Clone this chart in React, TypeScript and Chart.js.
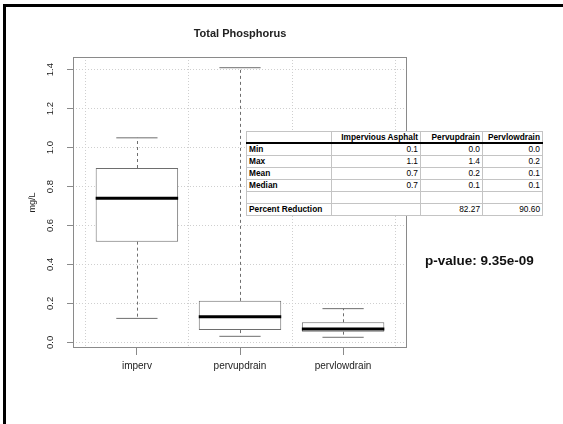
import { useEffect, useRef } from "react";
import { Chart, registerables } from "chart.js";

Chart.register(...registerables);

// Box-and-whisker summaries, one entry per site
const categories = ["imperv", "pervupdrain", "pervlowdrain"];
const whiskerLow = [0.123, 0.031, 0.026];
const quartile1 = [0.517, 0.063, 0.055];
const medians = [0.74, 0.132, 0.068];
const quartile3 = [0.895, 0.213, 0.103];
const whiskerHigh = [1.05, 1.41, 0.173];

// Axis limits (data range padded 4% on each side)
const yLimits = [-0.029, 1.465];
const xLimits = [0.38, 3.62];
const yStep = 0.2;
const xGridValues = [0.5, 1.5, 2.5, 3.5];

// Summary table
const tableHeader = ["", "Impervious Asphalt", "Pervupdrain", "Pervlowdrain"];
const rowLabels = ["Min", "Max", "Mean", "Median", "", "Percent Reduction"];
const imperviousCol = ["0.1", "1.1", "0.7", "0.7", "", ""];
const pervupdrainCol = ["0.0", "1.4", "0.2", "0.1", "", "82.27"];
const pervlowdrainCol = ["0.0", "0.2", "0.1", "0.1", "", "90.60"];
const pValueText = "p-value: 9.35e-09";

const FONT = "'Liberation Sans', Arial, Helvetica, sans-serif";
const FRAME = "#8a8a8a";
const GRID = "#cfcfcf";
const LINE = "#6e6e6e";

const boxParts = {
  id: "boxParts",
  beforeDatasetsDraw(chart: any) {
    const { ctx, chartArea: a, scales } = chart;
    const x = scales.x;
    ctx.save();
    ctx.strokeStyle = GRID;
    ctx.lineWidth = 1;
    ctx.setLineDash([1, 2]);
    xGridValues.forEach((v) => {
      const px = Math.round(x.getPixelForValue(v)) + 0.5;
      ctx.beginPath();
      ctx.moveTo(px, a.top);
      ctx.lineTo(px, a.bottom);
      ctx.stroke();
    });
    ctx.restore();
  },
  afterDatasetsDraw(chart: any) {
    const { ctx, chartArea: a, scales } = chart;
    const y = scales.y;
    const meta = chart.getDatasetMeta(0);
    const seg = (x1: number, y1: number, x2: number, y2: number) => {
      ctx.beginPath();
      ctx.moveTo(x1, y1);
      ctx.lineTo(x2, y2);
      ctx.stroke();
    };
    ctx.save();
    meta.data.forEach((bar: any, i: number) => {
      const { x: cx, width } = bar.getProps(["x", "width"], true);
      const half = width / 2;
      const px = Math.round(cx) + 0.5;
      const yHi = y.getPixelForValue(whiskerHigh[i]);
      const yLo = y.getPixelForValue(whiskerLow[i]);
      const yQ1 = y.getPixelForValue(quartile1[i]);
      const yQ3 = y.getPixelForValue(quartile3[i]);
      const yMed = y.getPixelForValue(medians[i]);
      ctx.strokeStyle = LINE;
      ctx.lineWidth = 1;
      ctx.setLineDash([3, 3]);
      seg(px, yQ3, px, yHi);
      seg(px, yQ1, px, yLo);
      ctx.setLineDash([]);
      seg(cx - half / 2, yHi, cx + half / 2, yHi);
      seg(cx - half / 2, yLo, cx + half / 2, yLo);
      ctx.strokeStyle = "#000";
      ctx.lineWidth = 3;
      seg(cx - half, yMed, cx + half, yMed);
    });
    ctx.strokeStyle = FRAME;
    ctx.lineWidth = 1;
    ctx.strokeRect(
      Math.round(a.left) + 0.5,
      Math.round(a.top) + 0.5,
      Math.round(a.right - a.left) - 1,
      Math.round(a.bottom - a.top) - 1
    );
    ctx.restore();
  },
};

function SummaryTable() {
  const cols = [imperviousCol, pervupdrainCol, pervlowdrainCol];
  const widths = [85, 89, 62, 60];
  const base: any = {
    border: "1px solid #c4c4c4",
    height: "11px",
    padding: "0 2px",
    lineHeight: "11px",
    overflow: "hidden",
    whiteSpace: "nowrap",
  };
  return (
    <table
      style={{
        position: "absolute",
        left: 246,
        top: 131,
        width: 296,
        borderCollapse: "collapse",
        tableLayout: "fixed",
        background: "#fff",
        fontFamily: FONT,
        fontSize: "8.3px",
        color: "#000",
        border: "1px solid #a8a8a8",
      }}
    >
      <colgroup>
        {widths.map((w, i) => (
          <col key={i} style={{ width: w }} />
        ))}
      </colgroup>
      <tbody>
        <tr>
          {tableHeader.map((h, i) => (
            <td
              key={i}
              style={{
                ...base,
                height: "10px",
                lineHeight: "10px",
                fontWeight: "bold",
                textAlign: "right",
                borderBottom: "2px solid #000",
              }}
            >
              {h}
            </td>
          ))}
        </tr>
        {rowLabels.map((label, r) => {
          const topLine =
            r === rowLabels.length - 1 ? { borderTop: "1px solid #111" } : {};
          return (
            <tr key={r}>
              <td style={{ ...base, ...topLine, fontWeight: "bold", textAlign: "left" }}>
                {label}
              </td>
              {cols.map((c, k) => (
                <td key={k} style={{ ...base, ...topLine, textAlign: "right" }}>
                  {c[r]}
                </td>
              ))}
            </tr>
          );
        })}
      </tbody>
    </table>
  );
}

export default function App() {
  const canvasRef = useRef<HTMLCanvasElement | null>(null);

  useEffect(() => {
    const canvas = canvasRef.current;
    if (!canvas) return;
    const chart = new Chart(canvas, {
      type: "bar",
      data: {
        datasets: [
          {
            data: categories.map((_, i) => ({ x: i + 1, y: [quartile1[i], quartile3[i]] })) as any,
            backgroundColor: "#ffffff",
            borderColor: LINE,
            borderWidth: 1,
            borderSkipped: false,
            barPercentage: 0.8,
            categoryPercentage: 1,
          },
        ],
      },
      options: {
        responsive: false,
        animation: false,
        devicePixelRatio: 1,
        layout: { padding: { left: 20, right: 156, top: 0, bottom: 46 } },
        plugins: {
          legend: { display: false },
          tooltip: { enabled: false },
          title: {
            display: true,
            text: "Total Phosphorus",
            fullSize: false,
            color: "#222",
            font: { family: FONT, size: 11, weight: "bold", lineHeight: 1.2 },
            padding: { top: 27, bottom: 16.8 },
          },
        },
        scales: {
          x: {
            type: "linear",
            min: xLimits[0],
            max: xLimits[1],
            offset: false,
            afterFit: (s: any) => {
              s.height = 30;
            },
            ticks: {
              stepSize: 1,
              includeBounds: false,
              autoSkip: false,
              maxRotation: 0,
              minRotation: 0,
              padding: 5,
              color: "#222",
              font: { family: FONT, size: 10 },
              callback: (v: any) => categories[Math.round(v) - 1] ?? "",
            },
            grid: {
              drawOnChartArea: false,
              tickColor: FRAME,
              tickLength: 7,
              offset: false,
            },
            border: { display: false },
          },
          y: {
            type: "linear",
            min: yLimits[0],
            max: yLimits[1],
            afterFit: (s: any) => {
              s.width = 53;
            },
            ticks: {
              stepSize: yStep,
              includeBounds: false,
              minRotation: 90,
              maxRotation: 90,
              crossAlign: "center",
              padding: 10,
              color: "#222",
              font: { family: FONT, size: 9.5 },
              callback: (v: any) => Number(v).toFixed(1),
            },
            grid: {
              color: GRID,
              tickColor: FRAME,
              tickLength: 6,
              lineWidth: 1,
            },
            border: { display: false, dash: [1, 2] },
            title: {
              display: true,
              text: "mg/L",
              color: "#222",
              font: { family: FONT, size: 9, lineHeight: 1.2 },
              padding: { top: 7.5, bottom: 0 },
            },
          },
        },
      },
      plugins: [boxParts],
    });
    return () => chart.destroy();
  }, []);

  return (
    <div style={{ position: "absolute", left: 0, top: 0, width: 563, height: 424, background: "#fff" }}>
      <canvas ref={canvasRef} width={563} height={424} style={{ position: "absolute", left: 0, top: 0 }} />
      <SummaryTable />
      <div
        style={{
          position: "absolute",
          left: 425,
          top: 252,
          fontFamily: FONT,
          fontWeight: "bold",
          fontSize: "13.5px",
          lineHeight: "18px",
          color: "#111",
          whiteSpace: "nowrap",
        }}
      >
        {pValueText}
      </div>
      <div
        style={{
          position: "absolute",
          left: 3,
          top: 4,
          right: 0,
          bottom: 0,
          borderLeft: "3px solid #000",
          borderTop: "3px solid #000",
          pointerEvents: "none",
        }}
      />
    </div>
  );
}
